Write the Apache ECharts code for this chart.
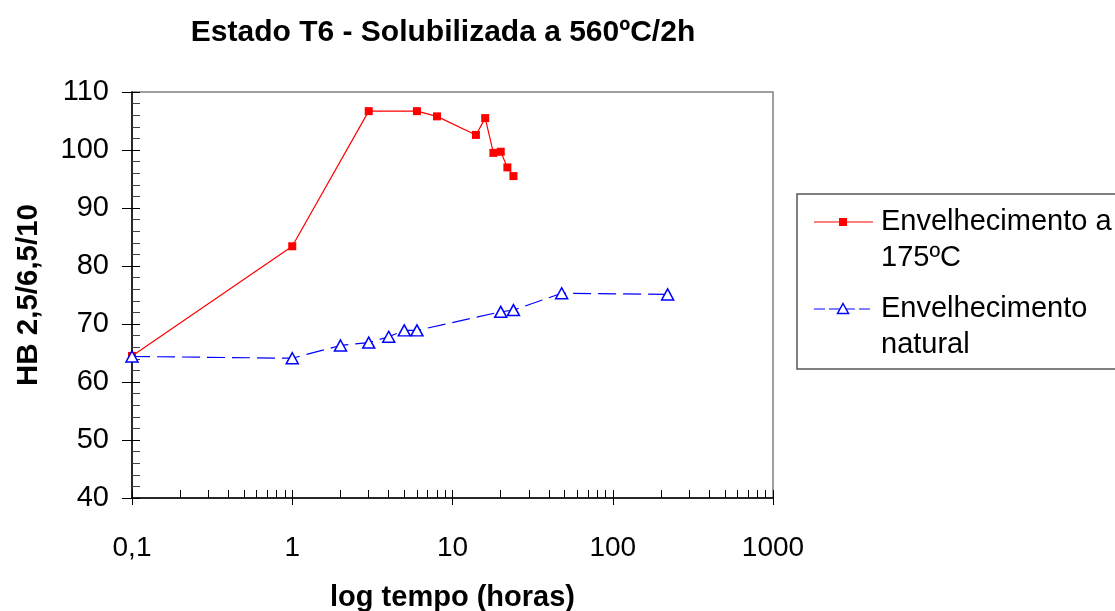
<!DOCTYPE html>
<html>
<head>
<meta charset="utf-8">
<script src="https://cdn.jsdelivr.net/npm/echarts@6/dist/echarts.min.js"></script>
<style>
html,body{margin:0;padding:0;background:#fff;}
#chart{width:1115px;height:611px;}
</style>
</head>
<body>
<div id="chart"></div>
<script>
// ---- data ----
const titleText = 'Estado T6 - Solubilizada a 560ºC/2h';
const xAxisName = 'log tempo (horas)';
const yAxisName = 'HB 2,5/6,5/10';
const seriesNames = ['Envelhecimento a 175ºC', 'Envelhecimento natural'];
const legendLabels = ['Envelhecimento a\n175ºC', 'Envelhecimento\nnatural'];

const redTimes = [0.1, 1, 3, 6, 8, 14, 16, 18, 20, 22, 24];
const redHB    = [64.5, 83.4, 106.7, 106.7, 105.8, 102.6, 105.5, 99.5, 99.7, 97.0, 95.5];

const blueTimes = [0.1, 1, 2, 3, 4, 5, 6, 20, 24, 48, 220];
const blueHB    = [64.4, 64.1, 66.3, 66.8, 67.8, 68.9, 68.9, 72.1, 72.4, 75.3, 75.1];

const xMajorTicks = [0.1, 1, 10, 100, 1000];
const xMinorTicks = [0.2,0.3,0.4,0.5,0.6,0.7,0.8,0.9, 2,3,4,5,6,7,8,9, 20,30,40,50,60,70,80,90, 200,300,400,500,600,700,800,900];
const yMin = 40, yMax = 110, yInterval = 10;

// ---- chart ----
const FONT = 'Liberation Sans, Arial, sans-serif';
const chart = echarts.init(document.getElementById('chart'), null, {renderer: 'canvas'});

const gridL = 132, gridT = 92, gridR = 342, gridB = 113;

function pairs(xs, ys) { return xs.map((x, i) => [x, ys[i]]); }

const option = {
  animation: false,
  backgroundColor: '#fff',
  title: {
    text: titleText,
    left: 438, top: 13, textAlign: 'center',
    textStyle: {fontFamily: FONT, fontWeight: 'bold', fontSize: 30, color: '#000'}
  },
  grid: {
    left: gridL, top: gridT, right: gridR, bottom: gridB,
    outerBoundsMode: 'none', containLabel: false,
    show: true, borderColor: '#808080', borderWidth: 1.5, backgroundColor: 'transparent'
  },
  xAxis: [
    {
      type: 'log', logBase: 10, min: 0.1, max: 1000, position: 'bottom',
      name: xAxisName, nameLocation: 'middle', nameGap: 85,
      nameTextStyle: {fontFamily: FONT, fontWeight: 'bold', fontSize: 29, color: '#000'},
      axisLine: {show: true, onZero: false, lineStyle: {color: '#000', width: 1.5}},
      axisTick: {show: true, inside: false, length: 7, customValues: xMajorTicks, lineStyle: {color: '#000', width: 1}},
      axisLabel: {
        show: true, margin: 36, customValues: xMajorTicks,
        fontFamily: FONT, fontSize: 28, color: '#000',
        formatter: v => String(v).replace('.', ',')
      },
      splitLine: {show: false}
    },
    {
      type: 'log', logBase: 10, min: 0.1, max: 1000, position: 'bottom',
      axisLine: {show: false, onZero: false},
      axisTick: {show: true, inside: true, length: 8, customValues: xMinorTicks.concat(xMajorTicks), lineStyle: {color: '#000', width: 1}},
      axisLabel: {show: false},
      splitLine: {show: false}
    }
  ],
  yAxis: [
    {
      type: 'value', min: yMin, max: yMax, interval: yInterval, position: 'left',
      name: yAxisName, nameLocation: 'middle', nameGap: 88, nameRotate: 90,
      nameTextStyle: {fontFamily: FONT, fontWeight: 'bold', fontSize: 29.5, color: '#000'},
      axisLine: {show: true, onZero: false, lineStyle: {color: '#000', width: 1.5}},
      axisTick: {show: true, inside: false, length: 10, lineStyle: {color: '#000', width: 1}},
      axisLabel: {show: true, margin: 23, fontFamily: FONT, fontSize: 29, color: '#000'},
      splitLine: {show: false}
    },
    {
      type: 'value', min: yMin, max: yMax, interval: yInterval, position: 'left',
      axisLine: {show: false, onZero: false},
      axisTick: {show: true, inside: true, length: 8, lineStyle: {color: '#000', width: 1}},
      minorTick: {show: true, splitNumber: 5, length: 8, lineStyle: {color: '#444', width: 1}},
      axisLabel: {show: false},
      splitLine: {show: false}
    }
  ],
  series: [
    {
      name: seriesNames[0], type: 'line', xAxisIndex: 0, yAxisIndex: 0,
      data: pairs(redTimes, redHB),
      symbol: 'rect', symbolSize: 8, showAllSymbol: true,
      lineStyle: {color: '#ff0000', width: 1.2},
      itemStyle: {color: '#ff0000', borderWidth: 0},
      z: 2
    },
    {
      name: seriesNames[1], type: 'line', xAxisIndex: 0, yAxisIndex: 0,
      data: pairs(blueTimes, blueHB),
      symbol: 'triangle', symbolSize: [12, 11], showAllSymbol: true,
      lineStyle: {color: '#0000ff', width: 1.2, type: [18, 7]},
      itemStyle: {color: '#ffffff', borderColor: '#0000ff', borderWidth: 1.5},
      z: 3
    }
  ],
  graphic: [
    {type: 'rect', shape: {x: 797, y: 194, width: 400, height: 175},
     style: {fill: '#fff', stroke: '#555', lineWidth: 1.5}, z: 10},
    {type: 'line', shape: {x1: 814, y1: 222, x2: 873, y2: 222},
     style: {stroke: '#ff0000', lineWidth: 1.2}, z: 11},
    {type: 'rect', shape: {x: 839, y: 218, width: 8, height: 8},
     style: {fill: '#ff0000'}, z: 12},
    {type: 'text', x: 881, y: 204, z: 12,
     style: {text: legendLabels[0], font: '29px ' + FONT, fill: '#000', lineHeight: 36, verticalAlign: 'top', align: 'left'}},
    {type: 'line', shape: {x1: 814, y1: 309, x2: 873, y2: 309},
     style: {stroke: '#0000ff', lineWidth: 1.2, lineDash: [11, 4]}, z: 11},
    {type: 'polygon', shape: {points: [[843, 303.5], [848.5, 313.5], [837.5, 313.5]]},
     style: {fill: '#fff', stroke: '#0000ff', lineWidth: 1.5}, z: 12},
    {type: 'text', x: 881, y: 291, z: 12,
     style: {text: legendLabels[1], font: '29px ' + FONT, fill: '#000', lineHeight: 36, verticalAlign: 'top', align: 'left'}}
  ]
};
chart.setOption(option);
</script>
</body>
</html>
